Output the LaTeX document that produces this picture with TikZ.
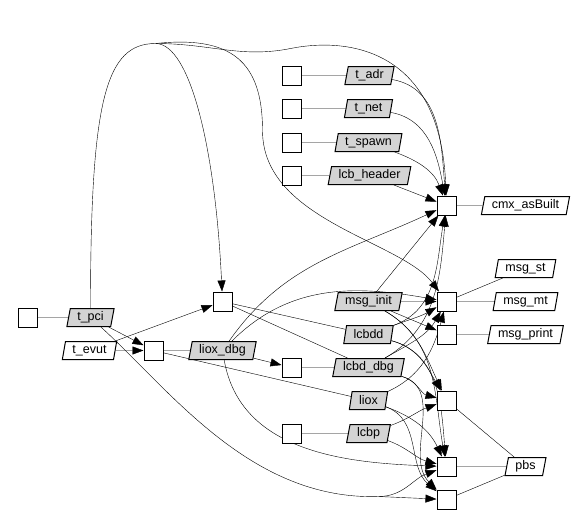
\documentclass[tikz,border=0pt]{standalone}
\usepackage{fontspec}
\setmainfont{Liberation Sans}
\usetikzlibrary{
  shapes.geometric,
  arrows.meta,
  backgrounds,
  positioning
}
\tikzset{
  job/.style = {draw, rectangle, minimum size=19pt, inner sep=0pt, fill=white},
  file/.style = {draw, trapezium, trapezium left angle=76, trapezium right angle=104,
    trapezium stretches=true, minimum height=18pt, inner xsep=7pt, inner ysep=1pt,
    fill=white, font=\fontsize{12.5}{14}\selectfont},
  built/.style = {file, fill=black!17},
  dep/.style = {-{Triangle[length=11pt,width=8pt]}}
}
\begin{document}
\begin{tikzpicture}[x=1pt, y=-1pt, line width=1pt]
    \useasboundingbox (-0.5,-0.5) rectangle (584.5,514.5);

    \node[job] (sqPci) at (27,317) {};
    \node[built] (tPci) at (90,317) {t\_pci};
    \node[file] (tEvut) at (89,350) {t\_evut};
    \node[job] (bxA) at (153,350) {};
    \node[job] (bxB) at (222,301) {};
    \node[built] (lioxDbg) at (222,350) {liox\_dbg};
    \node[job] (bxC) at (291,367) {};

    \node[job] (sqAdr) at (291,75) {};
    \node[built] (tAdr) at (369,75) {t\_adr};
    \node[job] (sqNet) at (291,108) {};
    \node[built] (tNet) at (368,108) {t\_net};
    \node[job] (sqSpawn) at (291,142) {};
    \node[built] (tSpawn) at (368,142) {t\_spawn};
    \node[job] (sqHdr) at (291,175) {};
    \node[built] (lcbHeader) at (369,175) {lcb\_header};

    \node[built] (msgInit) at (368,301) {msg\_init};
    \node[built] (lcbdd) at (368,334) {lcbdd};
    \node[built] (lcbdDbg) at (368,367) {lcbd\_dbg};
    \node[built] (liox) at (368,400) {liox};
    \node[job] (sqLcbp) at (291,433) {};
    \node[built] (lcbp) at (368,433) {lcbp};

    \node[job] (bxD) at (446,205) {};
    \node[job] (bxE) at (446,301) {};
    \node[job] (bxF) at (446,334) {};
    \node[job] (bxG) at (446,400) {};
    \node[job] (bxH) at (446,466) {};
    \node[job] (bxI) at (446,499) {};

    \node[file] (cmx) at (525,205) {cmx\_asBuilt};
    \node[file] (msgSt) at (525,268) {msg\_st};
    \node[file] (msgMt) at (525,301) {msg\_mt};
    \node[file] (msgPrint) at (525,334) {msg\_print};
    \node[file] (pbs) at (525,466) {pbs};

    \coordinate (arch) at (155,43);
    \coordinate (fork) at (378,496);

    \begin{scope}[on background layer]
    \draw (sqPci) -- (tPci);
    \draw (sqAdr) -- (tAdr);
    \draw (sqNet) -- (tNet);
    \draw (sqSpawn) -- (tSpawn);
    \draw (sqHdr) -- (lcbHeader);
    \draw (sqLcbp) -- (lcbp);
    \draw (bxA) -- (lioxDbg);
    \draw (bxA) -- (liox);
    \draw (bxB) -- (lcbdd);
    \draw (bxB) -- (lcbdDbg);
    \draw (bxC) -- (lcbdDbg);
    \draw (bxD) -- (cmx);
    \draw (bxE) -- (msgSt);
    \draw (bxE) -- (msgMt);
    \draw (bxF) -- (msgPrint);
    \draw (bxG) -- (pbs);
    \draw (bxH) -- (pbs);
    \draw (bxI) -- (pbs);

    \draw[dep] (tPci) edge (bxA)
               (tEvut) edge (bxA)
               (tEvut) edge (bxB)
               (lioxDbg) edge (bxC);

    \draw (tPci.north) .. controls (90,100) and (105,43) .. (arch);
    \draw[dep] (arch) .. controls (190,43) and (215,150) .. (bxB);
    \draw[dep] (arch) .. controls (210,43) and (240,58) .. (290,48)
                      .. controls (350,36) and (440,50) .. (bxD);
    \draw[dep] (arch) .. controls (230,35) and (262,60) .. (262,130)
                      .. controls (262,220) and (400,240) .. (bxE);

    \draw (tPci) .. controls (170,390) and (250,500) .. (fork);
    \draw[dep] (fork) -- (bxI);
    \draw[dep] (fork) to[out=0, in=200] (bxH);

    \draw[dep] (tAdr) edge[out=-10, in=95] (bxD)
               (tNet) edge[out=-10, in=100] (bxD)
               (tSpawn) edge[out=-20, in=110] (bxD)
               (lcbHeader) edge (bxD)
               (lioxDbg) edge[out=55, in=205] (bxD)
               (msgInit) edge (bxD)
               (lcbdd) edge[out=20, in=-100] (bxD)
               (lcbdDbg) edge[out=30, in=-95] (bxD);

    \draw[dep] (lioxDbg) edge[out=45, in=170] (bxE)
               (msgInit) edge (bxE)
               (lcbdd) edge[out=20, in=-150] (bxE)
               (lcbdDbg) edge[out=30, in=-120] (bxE)
               (liox) edge[out=25, in=-105] (bxE);

    \draw[dep] (msgInit) edge (bxF);

    \draw[dep] (msgInit) edge[out=-30, in=115] (bxG)
               (lcbdd) edge[out=-15, in=120] (bxG)
               (lcbdDbg) edge[out=-15, in=165] (bxG)
               (lcbp) edge[out=20, in=200] (bxG);

    \draw[dep] (msgInit) edge[out=-30, in=100] (bxH)
               (lcbdd) edge[out=-15, in=95] (bxH)
               (lioxDbg) edge[out=-80, in=178] (bxH)
               (liox) edge[out=-20, in=115] (bxH)
               (lcbp) edge[out=-20, in=165] (bxH);

    \draw[dep] (lcbdDbg) edge[out=-15, in=135] (bxI)
               (liox) edge[out=-20, in=140] (bxI);
    \end{scope}
\end{tikzpicture}
\end{document}
